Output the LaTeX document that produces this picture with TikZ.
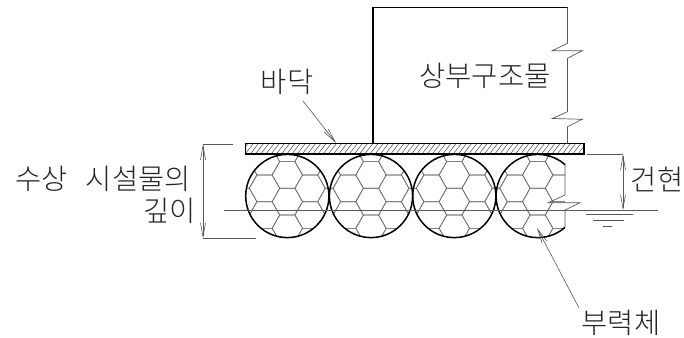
\documentclass[tikz,border=0pt]{standalone}
\usepackage{fontspec}
\newfontfamily\cjk{Noto Sans CJK KR Light}
\usetikzlibrary{arrows.meta}
\tikzset{
  heavy/.style={line width=1.5pt,black},
  thin line/.style={line width=0.7pt,draw=black!65},
  hexline/.style={line width=0.7pt,draw=black!55},
  hatchline/.style={line width=0.5pt,draw=black!70},
  dimline/.style={line width=0.6pt,draw=black!65,{Straight Barb[length=14pt,width=5pt]}-{Straight Barb[length=14pt,width=5pt]}},
  leader/.style={line width=0.6pt,draw=black!65,-{Straight Barb[length=14pt,width=5pt]}},
  label/.style={font=\cjk\fontsize{28.5}{30}\selectfont,text=black!85,inner sep=0pt,anchor=center},
}
\newcommand{\hexcell}[2]{%
  \draw[hexline] (#1-15.2,#2) -- (#1-7.6,#2-13.35) -- (#1+7.6,#2-13.35) -- (#1+15.2,#2)
     -- (#1+7.6,#2+13.35) -- (#1-7.6,#2+13.35) -- cycle;}
\newcommand{\hexball}[1]{%
  \foreach \cc in {-3,-1,1,3}{\foreach \rr in {-3,...,2}{%
     \pgfmathsetmacro{\hx}{#1+\cc*22.8}\pgfmathsetmacro{\hy}{201.65+\rr*26.7+13.35}\hexcell{\hx}{\hy}}}%
  \foreach \cc in {-2,0,2}{\foreach \rr in {-2,...,2}{%
     \pgfmathsetmacro{\hx}{#1+\cc*22.8}\pgfmathsetmacro{\hy}{201.65+\rr*26.7}\hexcell{\hx}{\hy}}}}
\begin{document}
\begin{tikzpicture}[x=1pt,y=-1pt]
\useasboundingbox (0,0) rectangle (684,337);
% hexagon floats
\foreach \cx in {287.3,371,454.3}{
  \begin{scope}
    \clip (\cx,196) circle[radius=41.6];
    \hexball{\cx}
  \end{scope}
  \draw[heavy] (\cx,196) circle[radius=41.6];
}
\begin{scope}
  \clip (490,150) rectangle (565,240);
  \begin{scope}
    \clip (537.7,196) circle[radius=41.6];
    \hexball{537.7}
  \end{scope}
  \draw[heavy] (537.7,196) circle[radius=41.6];
\end{scope}
\draw[thin line] (565,163) -- (565,195) -- (548.3,202.7) -- (580,202.7) -- (565,210) -- (565,227);
% deck
\begin{scope}
  \clip (245.5,143.5) rectangle (584,154);
  \foreach \hx in {240,245.2,...,590}{\draw[hatchline] (\hx,154) -- (\hx+8,143.5);}
\end{scope}
\draw[heavy] (245.5,143.5) rectangle (584,154);
% structure
\draw[heavy] (373,143.5) -- (373,7.5) -- (567.5,7.5);
\draw[thin line] (567.5,7.5) -- (567.5,43.3) -- (552.3,50.7) -- (582.3,50.7) -- (567.5,58.3)
   -- (567.5,111.7) -- (552.3,118.5) -- (582.3,119.3) -- (567.5,126.7) -- (567.5,143.5);
% water
\draw[thin line] (224,210.3) -- (658,210.3);
\draw[thin line] (586,214.5) -- (633,214.5);
\draw[thin line] (593,220) -- (624,220);
\draw[thin line] (603,226.7) -- (612,226.7);
% labels
\node[label] (sang) at (485,76) {상부구조물};
\node[label] (badak) at (287,82) {바닥};
\node[label,anchor=east] (depthA) at (191,179) {수상\hspace{18pt}시설물의};
\node[label,anchor=east] (depthB) at (196,211) {깊이};
\node[label] (free) at (657,180) {건현};
\node[label] (float) at (621,323) {부력체};
% dimensions
\coordinate (la) at (203,144); \coordinate (lb) at (203,238.5);
\coordinate (lae) at (233,144); \coordinate (lbe) at (256,238.5);
\draw[thin line] (la) -- (lae); \draw[thin line] (lb) -- (lbe);
\draw[dimline] (la) -- (lb);
\coordinate (ra) at (623,154.3); \coordinate (rb) at (623,210.3); \coordinate (rae) at (587,154.3);
\draw[thin line] (rae) -- (ra);
\draw[dimline] (ra) -- (rb);
% leaders
\coordinate (deckpt) at (336,143); \coordinate (deckfrom) at (303,101);
\draw[leader] (deckfrom) -- (deckpt);
\coordinate (ballpt) at (537,228); \coordinate (ballfrom) at (579,308);
\draw[leader] (ballfrom) -- (ballpt);
\end{tikzpicture}
\end{document}
